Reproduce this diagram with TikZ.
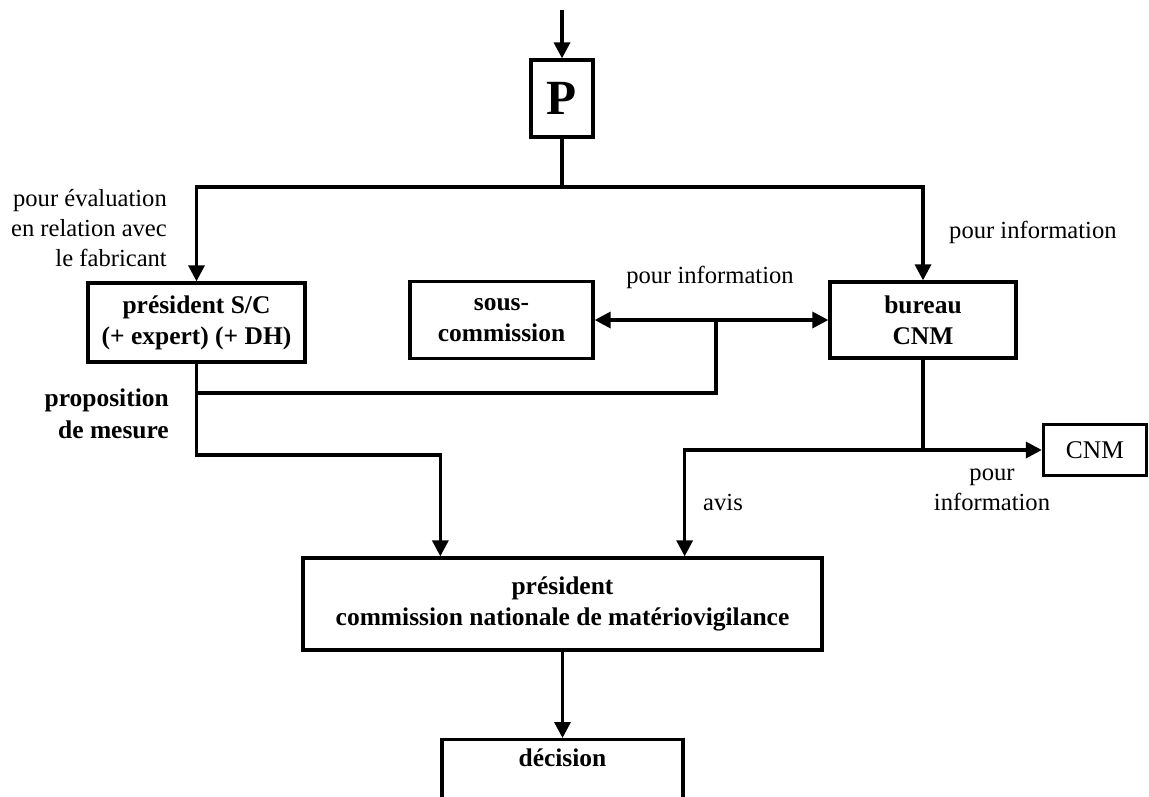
\documentclass[tikz,border=0pt]{standalone}
\usepackage{fontspec}
\setmainfont{Liberation Serif}
\usetikzlibrary{arrows.meta}
\tikzset{
	box/.style={draw, line width=1.9pt, font=\bfseries\fontsize{14.5}{17.5}\selectfont, align=center, inner sep=2pt},
	flow/.style={line width=1.9pt},
	flowArrow/.style={flow, -{Triangle[length=3.2mm,width=3.2mm]}},
	flowBoth/.style={flow, {Triangle[length=3.2mm,width=3.2mm]}-{Triangle[length=3.2mm,width=3.2mm]}},
	lbl/.style={font=\fontsize{14}{17}\selectfont, align=center},
}
\begin{document}
\begin{tikzpicture}[x=0.02cm,y=-0.02cm]
	\useasboundingbox (0,0) rectangle (1149,796);
	% boxes
	\coordinate (in) at (562,10);
	\node (P) at (562,98.5) [box, minimum width=1.24cm, minimum height=1.54cm, font=\bfseries\fontsize{28}{30}\selectfont] {P};
	\coordinate (split) at (562,187);
	\node (SC) at (196.5,322.5) [box, minimum width=4.34cm, minimum height=1.58cm] {président S/C\\(+ expert) (+ DH)};
	\node (sous) at (501.5,320) [box, minimum width=3.66cm, minimum height=1.54cm] {sous-\\commission};
	\node (bureau) at (923,320) [box, minimum width=3.72cm, minimum height=1.52cm] {bureau\\CNM};
	\node (CNM) at (1095,450) [box, minimum width=2.06cm, minimum height=1.02cm, font=\fontsize{14.5}{17}\selectfont] {CNM};
	\node (pres) at (562.5,604) [box, minimum width=10.38cm, minimum height=1.84cm] {président\\commission nationale de matériovigilance};
	\node (dec) at (562.5,738) [box, anchor=north, minimum width=4.82cm, text height=13pt, text depth=1.2cm] {décision};
	\coordinate (tap) at (716,320);
	\coordinate (midrow) at (0,393);
	\coordinate (lowrow) at (0,455);

	% connectors
	\draw[flowArrow] (in) -- (P);
	\draw[flow] (P) -- (split);
	\draw[flowArrow] (split) -| (SC);
	\draw[flowArrow] (split) -| (bureau);
	\draw[flowBoth] (sous) -- (bureau);
	\draw[flow] (tap) -- (tap |- midrow) -- (SC |- midrow);
	\draw[flowArrow] (SC) -- (SC |- lowrow) -| (pres.north -| dec.west);
	\draw[flow] (bureau) -- (bureau |- CNM);
	\draw[flowBoth] (pres.north -| dec.east) |- (CNM);
	\draw[flowArrow] (pres) -- (dec);

	% labels
	\node (lblEval) at (173,228) [lbl, anchor=east, align=right] {pour évaluation\\en relation avec\\le fabricant};
	\node (lblProp) at (175,414) [lbl, anchor=east, align=right, font=\bfseries\fontsize{14.5}{18}\selectfont] {proposition\\de mesure};
	\node (lblInfoA) at (943,232) [lbl, anchor=west] {pour information};
	\node (lblInfoB) at (710,277) [lbl] {pour information};
	\node (lblInfoC) at (992,490) [lbl] {pour\\information};
	\node (lblAvis) at (697,502) [lbl, anchor=west] {avis};
\end{tikzpicture}
\end{document}
